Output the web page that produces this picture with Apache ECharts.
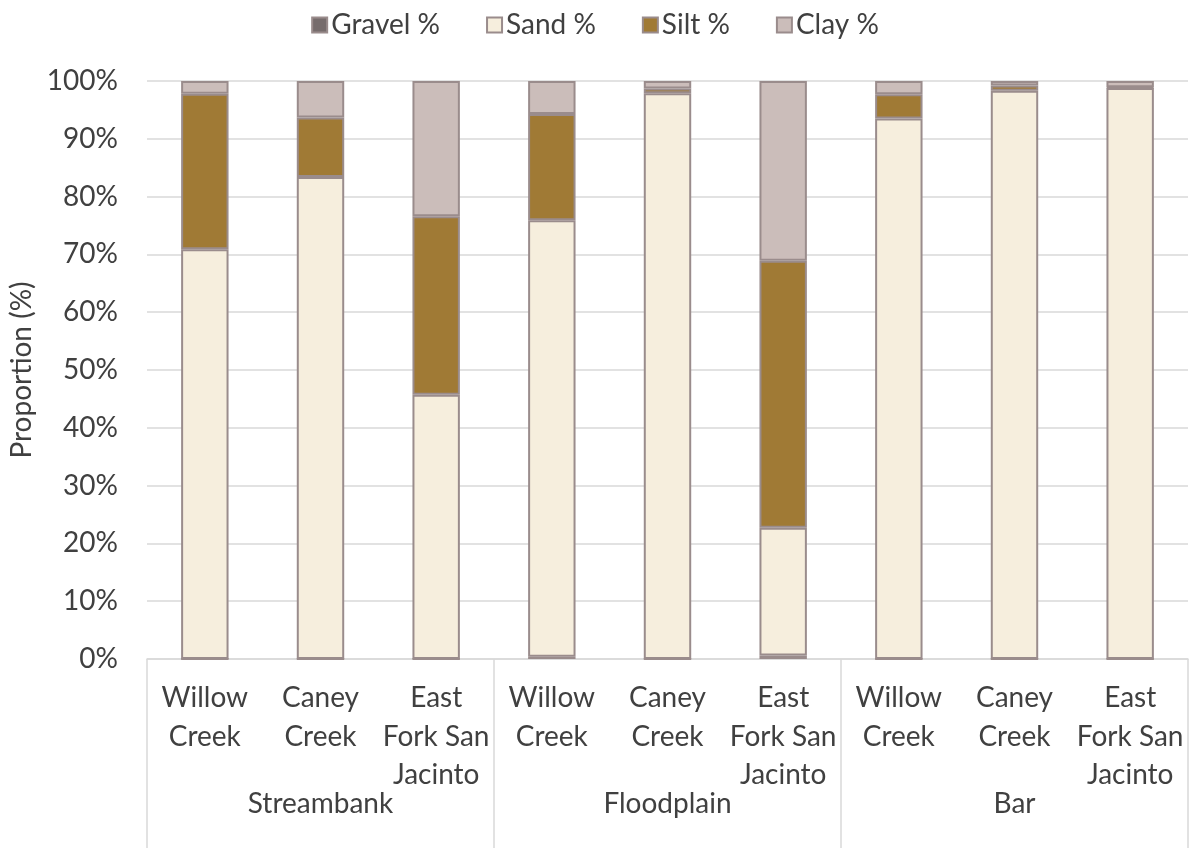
<!DOCTYPE html>
<html>
<head>
<meta charset="utf-8">
<style>
  html, body { margin: 0; padding: 0; background: #ffffff; }
  #chart { width: 1190px; height: 848px; }
</style>
<script src="https://cdn.jsdelivr.net/npm/echarts@6/dist/echarts.min.js"></script>
</head>
<body>
<div id="chart"></div>
<script>
// Sites (inner axis) and landform groups (outer axis)
const sites = [
  'Willow\nCreek', 'Caney\nCreek', 'East\nFork San\nJacinto',
  'Willow\nCreek', 'Caney\nCreek', 'East\nFork San\nJacinto',
  'Willow\nCreek', 'Caney\nCreek', 'East\nFork San\nJacinto'
];
const groups = ['Streambank', 'Floodplain', 'Bar'];

// Particle size fractions (%) per sample
const gravel = [0.0, 0.0, 0.0, 0.4, 0.0, 0.6, 0.0, 0.0, 0.0];
const sand   = [70.9, 83.4, 45.7, 75.5, 97.9, 22.1, 93.5, 98.3, 98.8];
const silt   = [26.9, 10.3, 30.9, 18.4, 0.8, 46.2, 4.2, 0.9, 0.1];
const clay   = [2.2, 6.3, 23.4, 5.7, 1.3, 31.1, 2.3, 0.8, 1.1];

const yTicks = [0, 10, 20, 30, 40, 50, 60, 70, 80, 90, 100];

const FONT = 'Lato, "Open Sans", sans-serif';
const FS = 28;
const TEXT = '#404040';
const BORDER = '#9a8c8c';
const GRIDLINE = '#d9d9d9';

function makeSeries(name, data, color) {
  return {
    name: name,
    type: 'bar',
    stack: 'total',
    data: data,
    barWidth: '41%',
    itemStyle: { color: color, borderColor: BORDER, borderWidth: 2 },
    emphasis: { disabled: true }
  };
}

const chart = echarts.init(document.getElementById('chart'));
chart.setOption({
  animation: false,
  textStyle: { fontFamily: FONT, color: TEXT },
  legend: {
    top: 6,
    left: 'center',
    itemWidth: 15,
    itemHeight: 15,
    itemGap: 46,
    icon: 'rect',
    textStyle: { fontFamily: FONT, fontSize: FS, color: TEXT, padding: [0, 0, 0, -1] },
    data: ['Gravel %', 'Sand %', 'Silt %', 'Clay %']
  },
  grid: {
    left: 147, right: 2, top: 81, bottom: 189,
    containLabel: false,
    outerBoundsMode: 'none'
  },
  xAxis: [
    {
      type: 'category',
      data: sites,
      position: 'bottom',
      axisLine: { show: true, lineStyle: { color: GRIDLINE, width: 1.5 } },
      axisTick: { show: false },
      axisLabel: {
        interval: 0,
        margin: 20,
        fontFamily: FONT,
        fontSize: FS,
        lineHeight: 38.5,
        color: TEXT,
        align: 'center'
      }
    },
    {
      type: 'category',
      data: groups,
      position: 'bottom',
      offset: 0,
      boundaryGap: true,
      axisLine: { show: false },
      axisTick: { show: true, length: 189, lineStyle: { color: GRIDLINE, width: 1.5 } },
      axisLabel: {
        interval: 0,
        margin: 131,
        fontFamily: FONT,
        fontSize: FS,
        color: TEXT
      }
    }
  ],
  yAxis: {
    type: 'value',
    min: yTicks[0],
    max: yTicks[yTicks.length - 1],
    interval: 10,
    name: 'Proportion (%)',
    nameLocation: 'middle',
    nameGap: 108,
    nameRotate: 90,
    nameTextStyle: { fontFamily: FONT, fontSize: FS, color: TEXT },
    axisLine: { show: false },
    axisTick: { show: false },
    axisLabel: {
      margin: 29,
      fontFamily: FONT,
      fontSize: FS,
      color: TEXT,
      formatter: v => v + '%'
    },
    splitLine: { lineStyle: { color: GRIDLINE, width: 1.5 } }
  },
  series: [
    makeSeries('Gravel %', gravel, '#766c6c'),
    makeSeries('Sand %', sand, '#f6eedd'),
    makeSeries('Silt %', silt, '#a07a35'),
    makeSeries('Clay %', clay, '#cbbdba')
  ]
});
</script>
</body>
</html>
